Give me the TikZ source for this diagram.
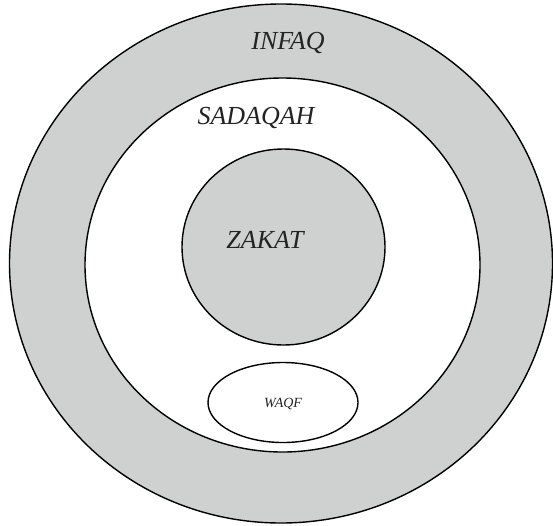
\documentclass[tikz,border=0pt]{standalone}
\usepackage{fontspec}
\setmainfont{Liberation Serif}
\usetikzlibrary{shapes.geometric}
\definecolor{ringgray}{RGB}{207,209,209}
\definecolor{labelink}{RGB}{35,35,35}
\begin{document}
\begin{tikzpicture}[x=1pt,y=-1pt,
  ring/.style={ellipse, draw=black, line width=1.4pt, inner sep=0pt},
  biglabel/.style={font=\itshape\fontsize{26}{30}\selectfont, text=labelink, inner sep=0pt},
  smalllabel/.style={font=\itshape\fontsize{14}{16}\selectfont, text=labelink, inner sep=0pt}]
\useasboundingbox (0,0) rectangle (553,525);
\node[ring, fill=ringgray, minimum width=543pt, minimum height=519pt] (infaq) at (281,263.5) {};
\node[ring, fill=white, minimum width=395pt, minimum height=374pt] (sadaqah) at (282.5,265) {};
\node[ring, fill=ringgray, minimum width=203pt, minimum height=196pt] (zakat) at (283.5,247) {};
\node[ring, fill=white, minimum width=150pt, minimum height=80pt] (waqf) at (283,402.5) {};
\node[biglabel] (tinfaq) at (288,43) {INFAQ};
\node[biglabel] (tsadaqah) at (256,118) {SADAQAH};
\node[biglabel] (tzakat) at (265,240) {ZAKAT};
\node[smalllabel] (twaqf) at (283,404) {WAQF};
\end{tikzpicture}
\end{document}
